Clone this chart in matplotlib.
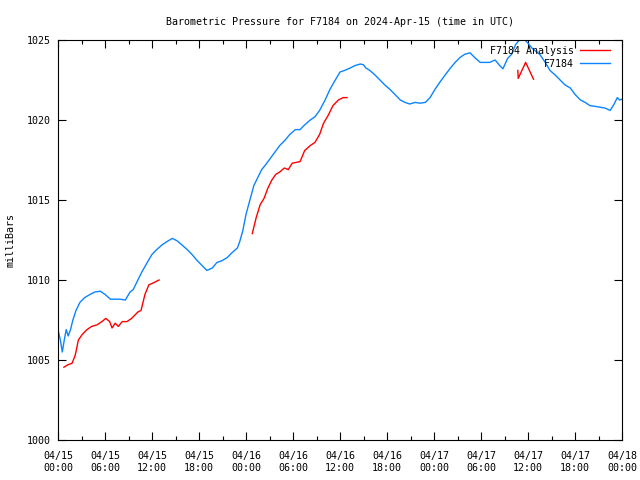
import matplotlib
matplotlib.use("Agg")
import matplotlib.pyplot as plt
from matplotlib.ticker import MultipleLocator

# hours since 2024-04-15 00:00 UTC
obs_hours = [0.0, 0.3, 0.55, 0.8, 1.05, 1.3, 1.6, 1.9, 2.3, 2.8, 3.4, 4.1, 4.7, 5.4,
             6.0, 6.7, 7.3, 7.9, 8.6, 9.2, 9.6, 10.2, 10.7, 11.4, 12.0, 12.6, 13.3,
             13.9, 14.6, 15.2, 15.8, 16.5, 17.1, 17.7, 18.4, 19.0, 19.7, 20.3, 20.9,
             21.6, 22.2, 22.9, 23.2, 23.6, 24.0, 24.5, 25.0, 25.5, 26.0, 26.5, 27.1,
             27.7, 28.3, 29.0, 29.6, 30.3, 30.9, 31.5, 32.2, 32.8, 33.4, 34.1, 34.7,
             35.4, 36.0, 36.6, 37.3, 37.9, 38.6, 39.0, 39.3, 39.8, 40.5, 41.1, 41.7,
             42.4, 43.0, 43.7, 44.3, 44.9, 45.6, 46.2, 46.9, 47.5, 48.1, 48.8, 49.4,
             50.1, 50.7, 51.3, 51.9, 52.6, 53.2, 53.9, 54.5, 55.1, 55.8, 56.4, 56.8,
             57.4, 57.9, 58.4, 58.9, 59.6, 60.0, 60.5, 61.1, 61.5, 62.2, 62.8, 63.5,
             64.1, 64.7, 65.4, 66.0, 66.7, 67.3, 67.9, 68.6, 69.2, 69.8, 70.5, 71.0,
             71.4, 71.7, 72.0]
obs_press = [1006.9, 1006.25, 1005.5, 1006.25, 1006.9, 1006.5, 1006.9, 1007.5, 1008.1,
             1008.6, 1008.9, 1009.1, 1009.25, 1009.3, 1009.1, 1008.8, 1008.8, 1008.8,
             1008.75, 1009.25, 1009.4, 1010.0, 1010.5, 1011.1, 1011.6, 1011.9, 1012.2,
             1012.4, 1012.6, 1012.45, 1012.2, 1011.9, 1011.6, 1011.25, 1010.9, 1010.6,
             1010.75, 1011.1, 1011.2, 1011.4, 1011.7, 1012.0, 1012.4, 1013.1, 1014.1,
             1015.0, 1015.9, 1016.4, 1016.9, 1017.2, 1017.6, 1018.0, 1018.4, 1018.75,
             1019.1, 1019.4, 1019.4, 1019.7, 1020.0, 1020.2, 1020.6, 1021.25, 1021.9,
             1022.5, 1023.0, 1023.1, 1023.25, 1023.4, 1023.5, 1023.45, 1023.25, 1023.1,
             1022.8, 1022.5, 1022.2, 1021.9, 1021.6, 1021.25, 1021.1, 1021.0, 1021.1,
             1021.05, 1021.1, 1021.4, 1021.9, 1022.4, 1022.8, 1023.25, 1023.6, 1023.9,
             1024.1, 1024.2, 1023.9, 1023.6, 1023.6, 1023.6, 1023.75, 1023.4, 1023.2,
             1023.85, 1024.1, 1024.7, 1025.0, 1025.0, 1024.8, 1024.5, 1024.25, 1024.1,
             1023.6, 1023.1, 1022.8, 1022.5, 1022.2, 1022.0, 1021.6, 1021.25, 1021.1,
             1020.9, 1020.85, 1020.8, 1020.75, 1020.6, 1021.0, 1021.4, 1021.25, 1021.3]

ana1_hours = [0.75, 1.25, 1.8, 2.2, 2.6, 3.1, 3.7, 4.3, 5.0, 5.6, 6.1, 6.6, 6.9, 7.3,
              7.7, 8.2, 8.8, 9.4, 10.2, 10.6, 11.1, 11.6, 12.1, 12.9]
ana1_press = [1004.55, 1004.7, 1004.8, 1005.3, 1006.25, 1006.6, 1006.9, 1007.1, 1007.2,
              1007.4, 1007.6, 1007.4, 1007.0, 1007.3, 1007.1, 1007.4, 1007.4, 1007.6,
              1008.0, 1008.1, 1009.1, 1009.7, 1009.8, 1010.0]
ana2_hours = [24.8, 25.3, 25.8, 26.3, 26.8, 27.3, 27.8, 28.3, 28.9, 29.4, 29.9, 30.4,
              30.9, 31.5, 32.2, 32.8, 33.4, 33.9, 34.5, 35.1, 35.8, 36.4, 36.9]
ana2_press = [1012.9, 1013.9, 1014.7, 1015.1, 1015.75, 1016.25, 1016.6, 1016.75, 1017.0,
              1016.9, 1017.3, 1017.35, 1017.4, 1018.1, 1018.4, 1018.6, 1019.1, 1019.8,
              1020.3, 1020.9, 1021.25, 1021.4, 1021.4]
ana3_hours = [58.7, 58.75, 59.7, 60.7]
ana3_press = [1023.1, 1022.6, 1023.6, 1022.55]

tick_hours = list(range(0, 73, 6))
tick_labels = ["04/15\n00:00", "04/15\n06:00", "04/15\n12:00", "04/15\n18:00",
               "04/16\n00:00", "04/16\n06:00", "04/16\n12:00", "04/16\n18:00",
               "04/17\n00:00", "04/17\n06:00", "04/17\n12:00", "04/17\n18:00",
               "04/18\n00:00"]

plt.rcParams["font.family"] = "DejaVu Sans Mono"
plt.rcParams["font.size"] = 7.2

fig = plt.figure(figsize=(6.4, 4.8), dpi=100)
ax = fig.add_axes([58 / 640, 40 / 480, 564 / 640, 400 / 480])

red = "#ff0000"
blue = "#0a84ff"
ax.plot(ana1_hours, ana1_press, color=red, lw=1.0, label="F7184 Analysis")
ax.plot(ana2_hours, ana2_press, color=red, lw=1.0)
ax.plot(ana3_hours, ana3_press, color=red, lw=1.0)
ax.plot(obs_hours, obs_press, color=blue, lw=1.0, label="F7184")

ax.set_xlim(0, 72)
ax.set_ylim(1000, 1025)
ax.set_xticks(tick_hours)
ax.set_xticklabels(tick_labels, linespacing=1.25)
ax.xaxis.set_minor_locator(MultipleLocator(3))
ax.set_yticks(range(1000, 1026, 5))
ax.tick_params(which="both", direction="in", top=True, right=True, width=0.8)
ax.tick_params(which="major", length=6)
ax.tick_params(axis="x", which="major", pad=8)
ax.tick_params(axis="y", which="major", pad=5)
ax.tick_params(which="minor", length=3)
ax.set_ylabel("milliBars", labelpad=8)
ax.set_title("Barometric Pressure for F7184 on 2024-Apr-15 (time in UTC)",
             fontsize=7.2, pad=11)

leg = ax.legend(loc="upper right", bbox_to_anchor=(0.979, 0.985), frameon=False,
                markerfirst=False, handlelength=3.0, borderaxespad=0.0, borderpad=0.0,
                labelspacing=0.3, handletextpad=0.6)

fig.savefig("out.png", dpi=100)
